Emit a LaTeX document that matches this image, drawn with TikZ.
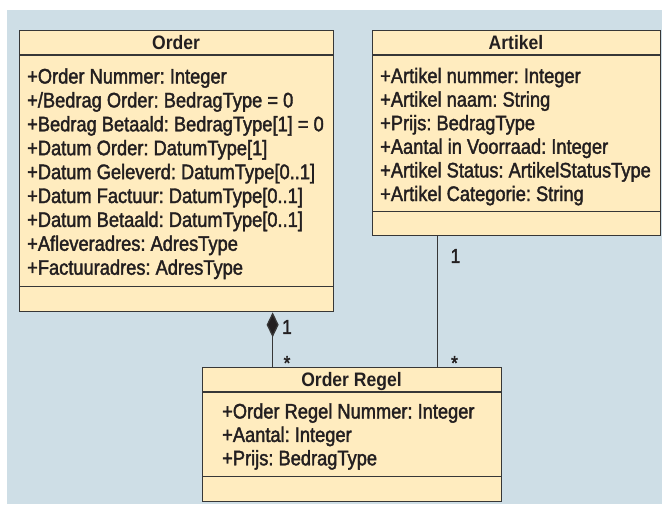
\documentclass[tikz,border=0pt]{standalone}
\usepackage{fontspec}
\setmainfont{Liberation Sans}[FakeStretch=0.9]
\newfontfamily\attrfont{Liberation Sans}[FakeStretch=0.87,FakeBold=1.8]
\usetikzlibrary{arrows.meta}
\definecolor{panel}{RGB}{206,222,230}
\definecolor{classfill}{RGB}{255,236,191}
\definecolor{edge}{RGB}{55,55,55}
\definecolor{ink}{RGB}{35,31,32}
\frenchspacing
\tikzset{
  classbox/.style={draw=edge, fill=classfill, line width=1.3pt, rectangle,
    inner sep=0pt, anchor=north west},
  divider/.style={draw=edge, line width=1.3pt},
  classname/.style={anchor=base, inner sep=0pt, text=ink,
    font=\fontsize{19.5}{22}\selectfont\bfseries},
  attr/.style={anchor=base west, inner sep=0pt, text=ink,
    font=\attrfont\fontsize{21}{24}\selectfont},
  mult/.style={anchor=center, inner sep=0pt, text=ink,
    font=\attrfont\fontsize{20}{24}\selectfont},
  link/.style={draw=edge, line width=1.3pt},
  composition/.style={link, {Diamond[length=25pt,width=12pt,fill=ink]}-}
}
\begin{document}
\begin{tikzpicture}[x=1pt,y=-1pt]
\useasboundingbox (0,0) rectangle (662,504);
\fill[panel] (7,10) rectangle (662,504);

% class Order
\node[classbox, minimum width=314pt, minimum height=281pt] (order) at (19,30) {};
\draw[divider] ([yshift=-25pt]order.north west) -- ([yshift=-25pt]order.north east);
\draw[divider] ([yshift=26pt]order.south west) -- ([yshift=26pt]order.south east);
\node[classname] (ordertitle) at (176,49.5) {Order};
\foreach \t [count=\i] in {
  {+Order Nummer: Integer},
  {+/Bedrag Order: BedragType = 0},
  {+Bedrag Betaald: BedragType[1] = 0},
  {+Datum Order: DatumType[1]},
  {+Datum Geleverd: DatumType[0..1]},
  {+Datum Factuur: DatumType[0..1]},
  {+Datum Betaald: DatumType[0..1]},
  {+Afleveradres: AdresType},
  {+Factuuradres: AdresType}}
  \node[attr] (orderattr\i) at (27,{83.5+23.9*(\i-1)}) {\t};

% class Artikel
\node[classbox, minimum width=288pt, minimum height=205pt] (artikel) at (372,30) {};
\draw[divider] ([yshift=-25pt]artikel.north west) -- ([yshift=-25pt]artikel.north east);
\draw[divider] ([yshift=25pt]artikel.south west) -- ([yshift=25pt]artikel.south east);
\node[classname] (artikeltitle) at (516,49.5) {Artikel};
\foreach \t [count=\i] in {
  {+Artikel nummer: Integer},
  {+Artikel naam: String},
  {+Prijs: BedragType},
  {+Aantal in Voorraad: Integer},
  {+Artikel Status: ArtikelStatusType},
  {+Artikel Categorie: String}}
  \node[attr] (artikelattr\i) at (380,{83+23.6*(\i-1)}) {\t};

% class Order Regel
\node[classbox, minimum width=299pt, minimum height=134pt] (regel) at (202,367) {};
\draw[divider] ([yshift=-25pt]regel.north west) -- ([yshift=-25pt]regel.north east);
\draw[divider] ([yshift=26pt]regel.south west) -- ([yshift=26pt]regel.south east);
\node[classname] (regeltitle) at (351.5,386.5) {Order Regel};
\foreach \t [count=\i] in {
  {+Order Regel Nummer: Integer},
  {+Aantal: Integer},
  {+Prijs: BedragType}}
  \node[attr] (regelattr\i) at (222,{418.5+23.4*(\i-1)}) {\t};

% associations
\draw[composition] ([xshift=96pt]order.south) -- ([xshift=-79.5pt]regel.north);
\draw[link] ([xshift=-79pt]artikel.south) -- ([xshift=85.5pt]regel.north);

% multiplicities
\node[mult] (m1) at (287,327) {1};
\node[mult] (m2) at (287,363) {*};
\node[mult] (m3) at (455.5,256) {1};
\node[mult] (m4) at (454.5,363) {*};
\end{tikzpicture}
\end{document}
